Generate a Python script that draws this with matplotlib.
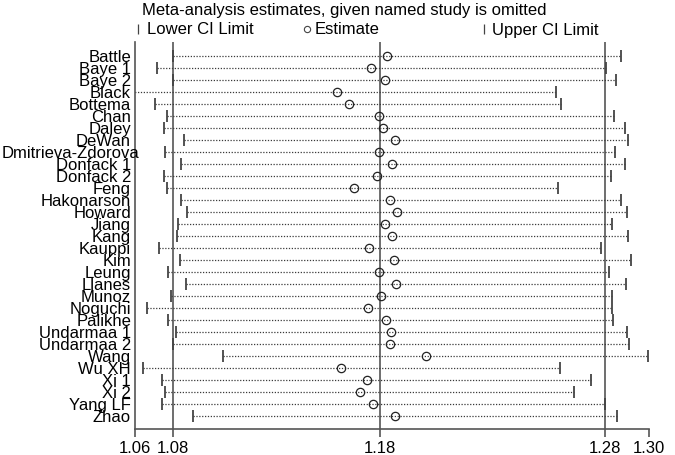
import matplotlib
matplotlib.use("Agg")
import matplotlib.pyplot as plt
from matplotlib.lines import Line2D
import numpy as np

plt.rcParams['font.family'] = ['Liberation Sans', 'DejaVu Sans']

studies = ["Battle", "Baye 1", "Baye 2", "Black", "Bottema", "Chan", "Daley", "DeWan",
           "Dmitrieva-Zdorova", "Donfack 1", "Donfack 2", "Feng", "Hakonarson", "Howard",
           "Jiang", "Kang", "Kauppi", "Kim", "Leung", "Llanes", "Munoz", "Noguchi", "Palikhe",
           "Undarmaa 1", "Undarmaa 2", "Wang", "Wu XH", "Xi 1", "Xi 2", "Yang LF", "Zhao"]

estimate = [1.1810, 1.1733, 1.1800, 1.1573, 1.1630, 1.1774, 1.1792, 1.1848,
            1.1774, 1.1834, 1.1762, 1.1656, 1.1825, 1.1856,
            1.1802, 1.1835, 1.1727, 1.1845, 1.1771, 1.1853, 1.1783, 1.1720, 1.1804,
            1.1829, 1.1825, 1.1994, 1.1594, 1.1714, 1.1684, 1.1742, 1.1849]

lower_ci = [1.0801, 1.0723, 1.0801, 1.0580, 1.0714, 1.0773, 1.0758, 1.0852,
            1.0762, 1.0836, 1.0758, 1.0773, 1.0838, 1.0865,
            1.0825, 1.0820, 1.0734, 1.0831, 1.0775, 1.0861, 1.0791, 1.0676, 1.0776,
            1.0814, 1.0802, 1.1035, 1.0660, 1.0748, 1.0760, 1.0746, 1.0894]

upper_ci = [1.2915, 1.2844, 1.2890, 1.2607, 1.2632, 1.2882, 1.2934, 1.2947,
            1.2888, 1.2934, 1.2868, 1.2619, 1.2915, 1.2945,
            1.2874, 1.2947, 1.2819, 1.2961, 1.2860, 1.2939, 1.2872, 1.2872, 1.2877,
            1.2943, 1.2952, 1.3044, 1.2627, 1.2773, 1.2693, 1.2839, 1.2898]

# axis ticks: min, overall lower CI, overall estimate, overall upper CI, max
xticks = [1.06206, 1.08, 1.17773, 1.28397, 1.30474]
ref_lines = [1.08, 1.17773, 1.28397]

W, H = 675, 456
FS = 12
fig = plt.figure(figsize=(W / 100, H / 100), dpi=100)
ax = fig.add_axes([135 / W, 1 - 430 / H, (649 - 135) / W, (430 - 43) / H])

n = len(studies)
y = np.arange(n)
ax.set_xlim(xticks[0], xticks[-1])
ax.set_ylim(30 + (430 - 57.3 - 12 * 30) / 12, -(57.3 - 43) / 12)

gray = '#555555'
for v in ref_lines:
    ax.axvline(v, color=gray, lw=1.2, zorder=1)

ax.hlines(y, lower_ci, upper_ci, colors='#3a3a3a', lw=0.9,
          linestyles=(0, (1.0, 1.3)), zorder=2)
ax.plot(lower_ci, y, linestyle='none', marker='|', markersize=9,
        markeredgewidth=1.3, color='#444444', zorder=3)
ax.plot(upper_ci, y, linestyle='none', marker='|', markersize=9,
        markeredgewidth=1.3, color='#444444', zorder=3)
ax.plot(estimate, y, linestyle='none', marker='o', markersize=6,
        markerfacecolor='none', markeredgecolor='#222222', markeredgewidth=0.9, zorder=4)

for s in ['top', 'right']:
    ax.spines[s].set_visible(False)
ax.spines['left'].set_color(gray)
ax.spines['left'].set_linewidth(1.2)
ax.spines['bottom'].set_color(gray)
ax.spines['bottom'].set_linewidth(1.2)

ax.set_xticks(xticks)
ax.set_xticklabels([f"{t:.2f}" for t in xticks])
ax.tick_params(axis='x', direction='out', length=6, width=1.2, color=gray,
               labelsize=FS, pad=2)
ax.set_yticks([])

# study labels, right aligned next to the axis
labels = []
for i, s in enumerate(studies):
    t = ax.text(-4 / 514, i, s, transform=ax.get_yaxis_transform(), ha='right',
                va='center', fontsize=FS, color='black')
    labels.append(t)
fig.canvas.draw()
r = fig.canvas.get_renderer()
for t in labels:
    bb = t.get_window_extent(r)
    if bb.x0 < 2:
        t.set_ha('left')
        t.set_x((2 - 135) / 514)

# title and legend
fig.text(142 / W, 1 - 11 / H, "Meta-analysis estimates, given named study is omitted",
         ha='left', va='center', fontsize=FS)
fig.add_artist(Line2D([138 / W], [1 - 30 / H], marker='|', markersize=7,
                      markeredgewidth=0.9, color='#444444', linestyle='none'))
fig.text(147 / W, 1 - 30 / H, "Lower CI Limit", ha='left', va='center', fontsize=FS)
fig.add_artist(Line2D([307 / W], [1 - 30 / H], marker='o', markersize=4.5,
                      markerfacecolor='none', markeredgecolor='#444444',
                      markeredgewidth=0.8, linestyle='none'))
fig.text(315 / W, 1 - 30 / H, "Estimate", ha='left', va='center', fontsize=FS)
fig.add_artist(Line2D([484 / W], [1 - 30 / H], marker='|', markersize=7,
                      markeredgewidth=0.9, color='#444444', linestyle='none'))
fig.text(492 / W, 1 - 30 / H, "Upper CI Limit", ha='left', va='center', fontsize=FS)

fig.savefig("out.png", dpi=100)
